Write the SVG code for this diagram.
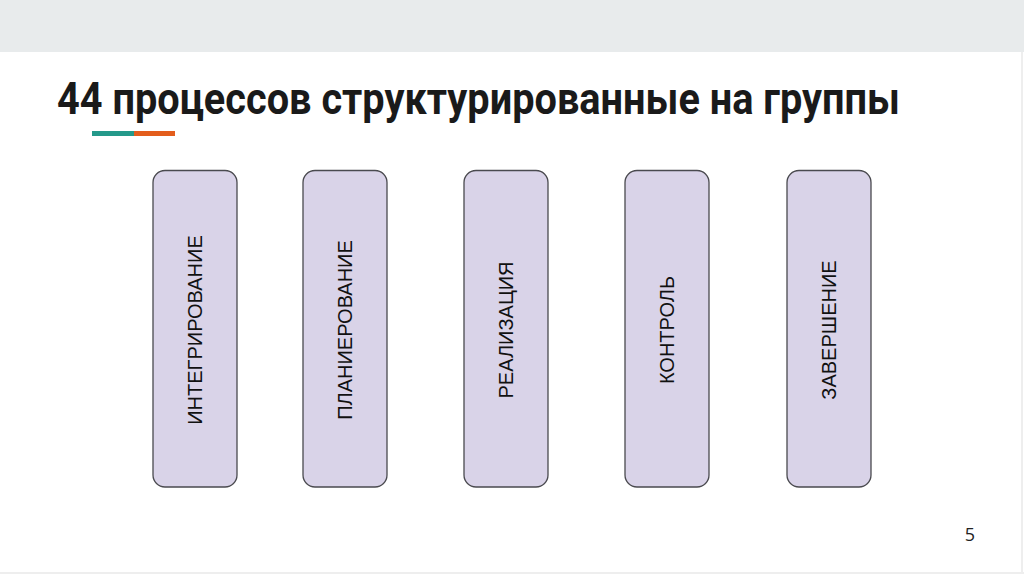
<svg xmlns="http://www.w3.org/2000/svg" width="1024" height="574" viewBox="0 0 1024 574">
<style>
.box{fill:#d9d3e8;stroke:#4a4a4f;stroke-width:1.3}
.lbl{font-family:"Liberation Sans",Arial,sans-serif;font-size:20px;fill:#111;text-anchor:middle;dominant-baseline:central}
</style>
<rect x="0" y="0" width="1024" height="574" fill="#ffffff"/>
<rect x="0" y="0" width="1024" height="52" fill="#e8ebec"/>
<line x1="1022" y1="52" x2="1022" y2="574" stroke="#eeeeee" stroke-width="2"/>
<line x1="0" y1="573" x2="1024" y2="573" stroke="#eeeeee" stroke-width="2"/>
<text x="57" y="114" font-family="Roboto,'Liberation Sans',sans-serif" font-weight="700" font-size="44" fill="#1a1a1a" textLength="843" lengthAdjust="spacingAndGlyphs">44 процессов структурированные на группы</text>
<rect x="92" y="131" width="42" height="5" fill="#24998a"/>
<rect x="134" y="131" width="41" height="5" fill="#e35d1c"/>
<g id="node-integration">
<rect class="box" x="153" y="170.5" width="84" height="316.5" rx="12"/>
<text class="lbl" transform="translate(195,330) rotate(-90)">ИНТЕГРИРОВАНИЕ</text>
</g>
<g id="node-planning">
<rect class="box" x="303" y="170.5" width="84" height="316.5" rx="12"/>
<text class="lbl" transform="translate(345,330) rotate(-90)">ПЛАНИЕРОВАНИЕ</text>
</g>
<g id="node-realization">
<rect class="box" x="464" y="170.5" width="84" height="316.5" rx="12"/>
<text class="lbl" transform="translate(506,330) rotate(-90)">РЕАЛИЗАЦИЯ</text>
</g>
<g id="node-control">
<rect class="box" x="625" y="170.5" width="84" height="316.5" rx="12"/>
<text class="lbl" transform="translate(667,330) rotate(-90)">КОНТРОЛЬ</text>
</g>
<g id="node-completion">
<rect class="box" x="787" y="170.5" width="84" height="316.5" rx="12"/>
<text class="lbl" transform="translate(829,330) rotate(-90)">ЗАВЕРШЕНИЕ</text>
</g>
<g id="connectors"></g>
<text x="970" y="541" font-family="'Open Sans','Liberation Sans',sans-serif" font-size="18" fill="#222" text-anchor="middle">5</text>
</svg>
